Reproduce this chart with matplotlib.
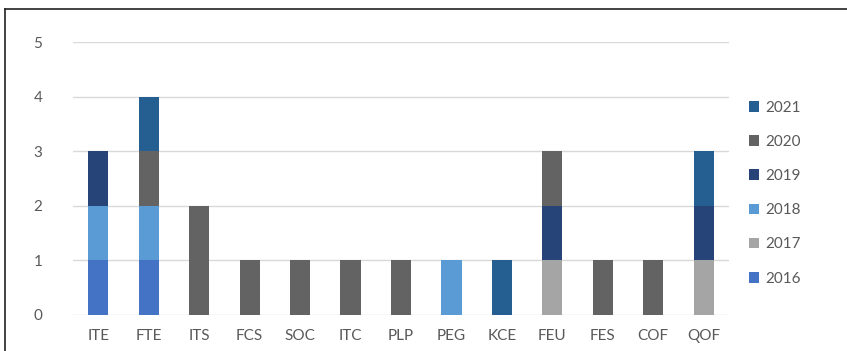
import matplotlib.pyplot as plt
from matplotlib.lines import Line2D
import numpy as np

categories = ['ITE', 'FTE', 'ITS', 'FCS', 'SOC', 'ITC', 'PLP', 'PEG', 'KCE', 'FEU', 'FES', 'COF', 'QOF']
years = ['2016', '2017', '2018', '2019', '2020', '2021']
v2016 = [1, 1, 0, 0, 0, 0, 0, 0, 0, 0, 0, 0, 0]
v2017 = [0, 0, 0, 0, 0, 0, 0, 0, 0, 1, 0, 0, 1]
v2018 = [1, 1, 0, 0, 0, 0, 0, 1, 0, 0, 0, 0, 0]
v2019 = [1, 0, 0, 0, 0, 0, 0, 0, 0, 1, 0, 0, 1]
v2020 = [0, 1, 2, 1, 1, 1, 1, 0, 0, 1, 1, 1, 0]
v2021 = [0, 1, 0, 0, 0, 0, 0, 0, 1, 0, 0, 0, 1]
colors = ['#4472C4', '#A5A5A5', '#5B9BD5', '#264478', '#636363', '#255E91']

plt.rcParams['font.family'] = ['Lato', 'DejaVu Sans']

fig = plt.figure(figsize=(8.47, 3.51), dpi=100)
# y=0 at pixel 315, y=5 at pixel 42
ax = fig.add_axes([73 / 847, (351 - 315) / 351, (729 - 73) / 847, (315 - 42) / 351])

x = np.arange(len(categories))
bottom = np.zeros(len(categories))
handles = []
for vals, col, yr in zip([v2016, v2017, v2018, v2019, v2020, v2021], colors, years):
    b = ax.bar(x, vals, width=0.4, bottom=bottom, color=col, label=yr, zorder=3)
    handles.append(b)
    bottom += np.array(vals)

ax.set_xlim(-0.5, len(categories) - 0.5)
ax.set_ylim(0, 5)
ax.set_yticks(range(6))
ax.set_xticks(x)
ax.set_xticklabels(categories)
ax.yaxis.grid(True, color='#D9D9D9', linewidth=1, zorder=0)
ax.tick_params(axis='both', length=0, labelsize=11, colors='#595959')
ax.tick_params(axis='x', pad=10)
ax.tick_params(axis='y', pad=22)
for s in ax.spines.values():
    s.set_visible(False)

leg = fig.legend(handles[::-1], years[::-1], loc='upper left',
                 bbox_to_anchor=(735 / 847, 1 - 87 / 351), frameon=False,
                 fontsize=11, labelcolor='#595959', handlelength=0.7,
                 handleheight=0.7, handletextpad=0.4, labelspacing=1.32)

# frame lines at top and left
fig.add_artist(Line2D([5 / 847, 1], [1 - 9 / 351, 1 - 9 / 351], color='#222222', linewidth=1.2))
fig.add_artist(Line2D([5 / 847, 5 / 847], [0, 1 - 9 / 351], color='#222222', linewidth=1.2))

fig.savefig('out.png', dpi=100)
